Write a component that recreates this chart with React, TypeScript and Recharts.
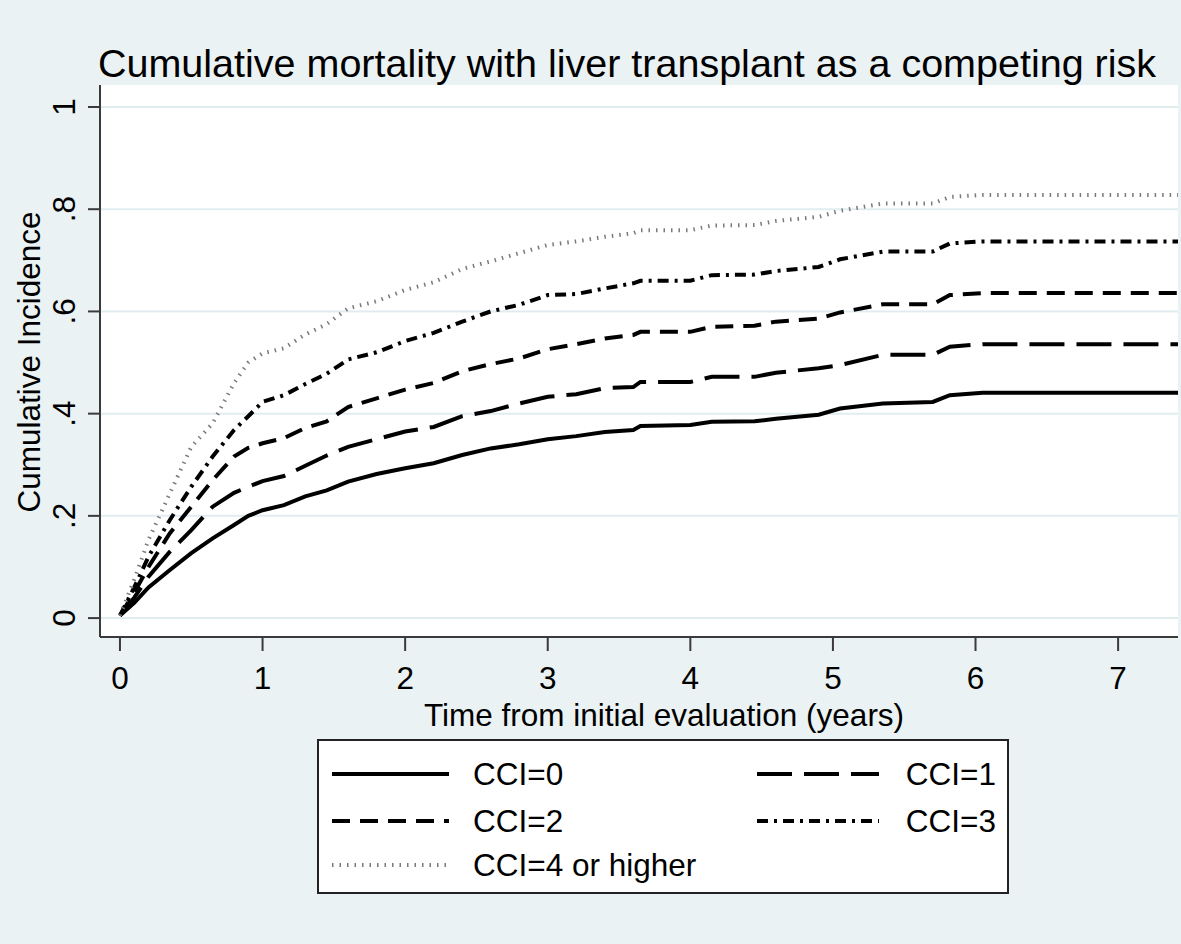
import React from "react";
import { LineChart, Line, XAxis, YAxis, CartesianGrid } from "recharts";

// time points (years)
const years = [0, 0.1, 0.2, 0.35, 0.5, 0.65, 0.8, 0.9, 1.0, 1.15, 1.3, 1.45, 1.6, 1.8, 2.0, 2.2, 2.4, 2.6, 2.8, 3.0, 3.2, 3.4, 3.6, 3.65, 4.0, 4.15, 4.45, 4.6, 4.9, 5.05, 5.35, 5.7, 5.82, 6.05, 7.42];

const cci0 = [0.005, 0.03, 0.06, 0.094, 0.127, 0.156, 0.182, 0.2, 0.211, 0.221, 0.238, 0.25, 0.267, 0.282, 0.293, 0.303, 0.319, 0.332, 0.34, 0.35, 0.356, 0.364, 0.368, 0.376, 0.378, 0.384, 0.385, 0.39, 0.398, 0.41, 0.42, 0.423, 0.436, 0.441, 0.441];
const cci1 = [0.005, 0.04, 0.081, 0.13, 0.172, 0.218, 0.245, 0.257, 0.268, 0.278, 0.298, 0.318, 0.335, 0.35, 0.365, 0.374, 0.395, 0.405, 0.42, 0.433, 0.438, 0.45, 0.452, 0.462, 0.462, 0.472, 0.472, 0.48, 0.489, 0.495, 0.515, 0.515, 0.531, 0.536, 0.536];
const cci2 = [0.005, 0.05, 0.1, 0.166, 0.218, 0.27, 0.316, 0.333, 0.342, 0.352, 0.372, 0.385, 0.413, 0.43, 0.447, 0.46, 0.483, 0.497, 0.508, 0.526, 0.536, 0.547, 0.554, 0.56, 0.56, 0.57, 0.572, 0.58, 0.586, 0.598, 0.614, 0.614, 0.632, 0.636, 0.636];
const cci3 = [0.005, 0.06, 0.12, 0.192, 0.257, 0.316, 0.368, 0.395, 0.423, 0.436, 0.458, 0.478, 0.506, 0.52, 0.542, 0.558, 0.58, 0.6, 0.613, 0.632, 0.634, 0.645, 0.655, 0.66, 0.66, 0.671, 0.672, 0.679, 0.687, 0.702, 0.717, 0.717, 0.733, 0.737, 0.737];
const cci4 = [0.005, 0.075, 0.153, 0.244, 0.335, 0.381, 0.46, 0.5, 0.518, 0.528, 0.555, 0.575, 0.606, 0.62, 0.642, 0.657, 0.683, 0.698, 0.714, 0.73, 0.737, 0.746, 0.753, 0.759, 0.759, 0.768, 0.769, 0.777, 0.785, 0.797, 0.811, 0.811, 0.824, 0.828, 0.828];

const seriesNames = ["CCI=0", "CCI=1", "CCI=2", "CCI=3", "CCI=4 or higher"];
const xTicks = [0, 1, 2, 3, 4, 5, 6, 7];
const yTicks = [0, 0.2, 0.4, 0.6, 0.8, 1];

const data = years.map((t, i) => ({
  t,
  c0: cci0[i],
  c1: cci1[i],
  c2: cci2[i],
  c3: cci3[i],
  c4: cci4[i],
}));

const FONT = "'Liberation Sans', Arial, sans-serif";
const BG = "#eaf2f3";
const GRID = "#e1ecef";
const AXIS = "#3a3a3a";

// line styles (stata-like patterns)
const styles = [
  { key: "c0", stroke: "#000", width: 4, dash: undefined },
  { key: "c1", stroke: "#000", width: 4, dash: "35 12" },
  { key: "c2", stroke: "#000", width: 4, dash: "18 10" },
  { key: "c3", stroke: "#000", width: 4, dash: "11 6 3 6" },
  { key: "c4", stroke: "#7a7a7a", width: 4, dash: "1.5 6" },
];

const fmtY = (v: number) => (v === 0 ? "0" : v === 1 ? "1" : String(v).replace(/^0/, ""));

const YTick = (props: any) => {
  const { x, y, payload } = props;
  return (
    <text
      transform={`translate(${x - 11},${y}) rotate(-90)`}
      textAnchor="middle"
      fontSize={31.5}
      fontFamily={FONT}
      fill="#000"
    >
      {fmtY(payload.value)}
    </text>
  );
};

const XTick = (props: any) => {
  const { x, y, payload } = props;
  return (
    <text x={x} y={y + 36} textAnchor="middle" fontSize={31.5} fontFamily={FONT} fill="#000">
      {payload.value}
    </text>
  );
};

function LegendBox() {
  const rowY = [35, 82, 126];
  const slots = [
    { lx: 15, lw: 117, tx: 156, anchor: "start" },
    { lx: 440, lw: 122, tx: 679, anchor: "end" },
  ];
  return (
    <svg
      width={692}
      height={155}
      style={{ position: "absolute", left: 317, top: 739 }}
    >
      <rect x={1} y={1} width={690} height={153} fill="#fff" stroke="#222" strokeWidth={2} />
      {seriesNames.map((name, i) => {
        const s = styles[i];
        const slot = slots[i % 2];
        const cy = rowY[Math.floor(i / 2)];
        return (
          <g key={name}>
            <line
              x1={slot.lx}
              x2={slot.lx + slot.lw}
              y1={cy}
              y2={cy}
              stroke={s.stroke}
              strokeWidth={s.width}
              strokeDasharray={s.dash}
            />
            <text
              x={slot.tx}
              y={cy + 11}
              textAnchor={slot.anchor as any}
              fontSize={31.5}
              fontFamily={FONT}
              fill="#000"
            >
              {name}
            </text>
          </g>
        );
      })}
    </svg>
  );
}

export default function App() {
  return (
    <div
      style={{
        position: "absolute",
        left: 0,
        top: 0,
        width: 1181,
        height: 944,
        background: BG,
        fontFamily: FONT,
      }}
    >
      <LineChart
        width={1181}
        height={944}
        data={data}
        margin={{ top: 85, right: 3, bottom: 247, left: 0 }}
      >
        <CartesianGrid fill="#fff" stroke={GRID} strokeWidth={2} vertical={false} horizontalValues={yTicks} />
        <XAxis
          dataKey="t"
          type="number"
          domain={[-0.14, 7.42]}
          ticks={xTicks}
          allowDataOverflow
          height={60}
          tickSize={14}
          stroke={AXIS}
          axisLine={{ stroke: AXIS, strokeWidth: 2 }}
          tickLine={{ stroke: AXIS, strokeWidth: 2 }}
          tick={<XTick />}
        />
        <YAxis
          type="number"
          domain={[-0.037, 1.043]}
          ticks={yTicks}
          allowDataOverflow
          width={100}
          tickSize={12}
          stroke={AXIS}
          axisLine={{ stroke: AXIS, strokeWidth: 2 }}
          tickLine={{ stroke: AXIS, strokeWidth: 2 }}
          tick={<YTick />}
        />
        {styles.map((s, i) => (
          <Line
            key={s.key}
            type="linear"
            dataKey={s.key}
            name={seriesNames[i]}
            stroke={s.stroke}
            strokeWidth={s.width}
            strokeDasharray={s.dash}
            dot={false}
            isAnimationActive={false}
          />
        ))}
      </LineChart>

      <svg
        width={1181}
        height={944}
        style={{ position: "absolute", left: 0, top: 0, pointerEvents: "none" }}
      >
        <text x={627} y={77} textAnchor="middle" fontSize={39.5} fontFamily={FONT} fill="#000">
          Cumulative mortality with liver transplant as a competing risk
        </text>
        <text x={664} y={726} textAnchor="middle" fontSize={31.5} fontFamily={FONT} fill="#000">
          Time from initial evaluation (years)
        </text>
        <text
          transform="translate(40,362) rotate(-90)"
          textAnchor="middle"
          fontSize={31.5}
          fontFamily={FONT}
          fill="#000"
        >
          Cumulative Incidence
        </text>
      </svg>

      <LegendBox />
    </div>
  );
}
